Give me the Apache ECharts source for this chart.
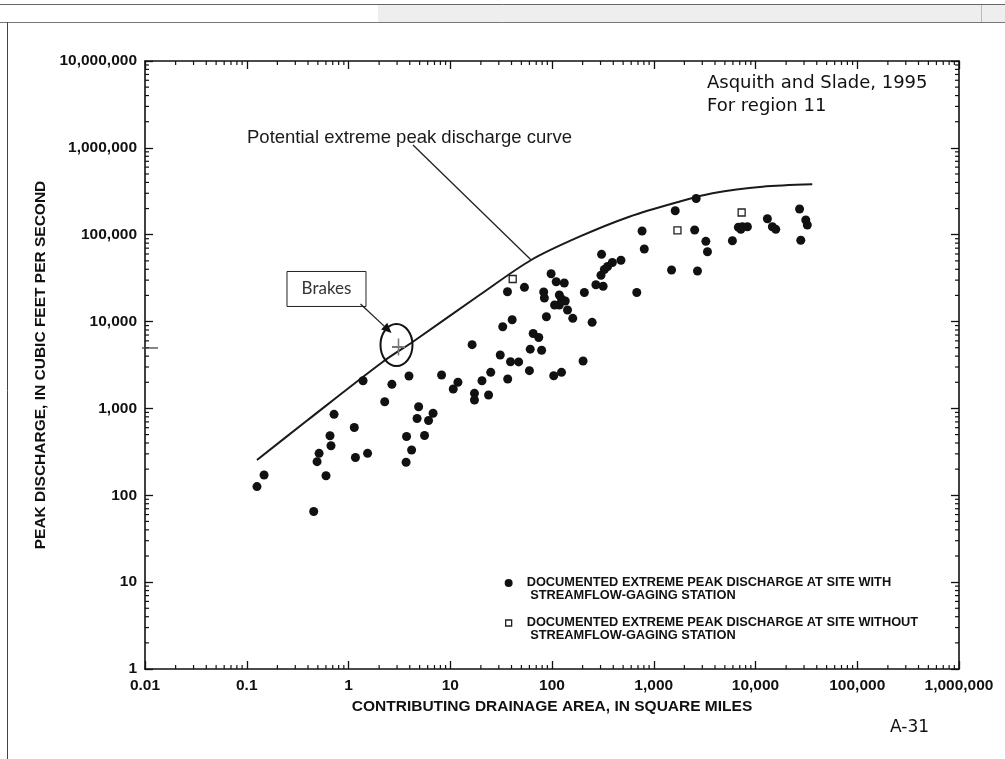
<!DOCTYPE html>
<html><head><meta charset="utf-8">
<style>html,body{margin:0;padding:0;background:#fff;}#c{width:1005px;height:759px;}</style>
<script src="https://cdn.jsdelivr.net/npm/echarts@6/dist/echarts.min.js"></script>
</head><body><div id="c"></div>
<script>
// ---------- data ----------
const xTickLabels = ['0.01','0.1','1','10','100','1,000','10,000','100,000','1,000,000'];
const yTickLabels = ['1','10','100','1,000','10,000','100,000','1,000,000','10,000,000'];
const minorMultipliers = [2,3,4,5,6,7,8,9];

const gagedArea = [0.126,0.148,0.455,0.514,0.491,0.658,0.673,0.601,1.14,1.17,1.54,3.72,4.17,3.68,5.59,0.721,1.39,2.27,2.67,3.93,
  4.89,4.72,6.12,6.78,8.22,10.7,11.9,16.4,17.3,17.3,23.8,20.5,25.0,31.0,36.7,39.1,47.0,32.8,40.6,60.0,
  61.1,79.1,65.3,74.1,104,124,88.1,36.5,53.6,82.9,84.2,110,132,118,124,106,118,135,142,160,
  248,202,98,208,270,318,303,327,352,392,476,307,681,768,807,1496,2690,1626,2612,2524,
  3252,3373,5930,6790,7430,8330,7180,13090,14650,15820,27100,31190,32300,27860];
const gagedPeak = [126,171,65,304,244,485,372,168,603,272,304,475,332,240,488,855,2080,1195,1895,2360,
  1047,766,726,879,2425,1674,2000,5420,1493,1250,1428,2085,2605,4120,2180,3450,3433,8730,10500,2720,
  4810,4670,7290,6560,2380,2605,11380,22060,24800,21900,18670,28770,27800,20200,18200,15500,15500,17250,13600,10900,
  9800,3515,35560,21600,26570,25470,34100,39740,43050,47860,50740,59460,21600,110300,68450,39250,38200,188900,261200,113300,
  83940,63710,85280,121700,123600,123600,115400,152800,123600,115400,197700,147600,129400,86450];
const ungagedArea = [41.1, 1710, 7310];
const ungagedPeak = [30900, 112400, 180200];
const curveArea = [0.126, 0.386, 2.18, 4.30, 19.4, 62.4, 186, 575, 1778, 3776, 11690, 36140];
const curvePeak = [255, 716, 3450, 5865, 20200, 51150, 94850, 161100, 239900, 299800, 357000, 380500];
const brakesArea = [3.1];
const brakesPeak = [5100];

const gagedName = 'DOCUMENTED EXTREME PEAK DISCHARGE AT SITE WITH\n STREAMFLOW-GAGING STATION';
const ungagedName = 'DOCUMENTED EXTREME PEAK DISCHARGE AT SITE WITHOUT\n STREAMFLOW-GAGING STATION';

// ---------- helpers ----------
function hasFont(name) {
  const c = document.createElement('canvas').getContext('2d');
  const s = 'DOCUMENTED EXTREME abcdefg 123';
  c.font = '16px monospace'; const w1 = c.measureText(s).width;
  c.font = '16px "' + name + '", monospace'; const w2 = c.measureText(s).width;
  return Math.abs(w1 - w2) > 0.5;
}
const narrow = hasFont('Liberation Sans Narrow');
const legendFont = narrow ? '"Liberation Sans Narrow"' : '"Liberation Sans"';
const legendSize = narrow ? 15.5 : 12.8;

const AX = '"Liberation Sans", Arial, sans-serif';
const ink = '#111';

const xMinor = [], yMinor = [];
for (let e = -2; e < 6; e++) minorMultipliers.forEach(m => xMinor.push(m * Math.pow(10, e)));
for (let e = 0; e < 7; e++) minorMultipliers.forEach(m => yMinor.push(m * Math.pow(10, e)));

const logLabel = (arr, base) => v => arr[Math.round(Math.log10(v)) - base] || '';

const tickStyle = {show: true, inside: true, length: 8, lineStyle: {color: ink, width: 1.3}};
const lineStyleAx = {show: true, lineStyle: {color: ink, width: 1.6}};

const chart = echarts.init(document.getElementById('c'), null, {renderer: 'canvas'});
chart.setOption({
  animation: false,
  backgroundColor: '#fff',
  grid: {left: 145, right: 46, top: 61, bottom: 90},
  xAxis: [
    {type: 'log', logBase: 10, min: 0.01, max: 1000000, interval: 1, position: 'bottom',
     axisLine: lineStyleAx, axisTick: tickStyle, splitLine: {show: false},
     axisLabel: {formatter: logLabel(xTickLabels, -2), fontFamily: AX, fontSize: 15.5, fontWeight: 'bold', color: ink, margin: 9},
     name: 'CONTRIBUTING DRAINAGE AREA, IN SQUARE MILES', nameLocation: 'middle', nameGap: 29,
     nameTextStyle: {fontFamily: AX, fontSize: 15.5, fontWeight: 'bold', color: ink}},
    {type: 'log', logBase: 10, min: 0.01, max: 1000000, interval: 1, position: 'top',
     axisLine: lineStyleAx, axisTick: tickStyle, splitLine: {show: false}, axisLabel: {show: false}}
  ],
  yAxis: [
    {type: 'log', logBase: 10, min: 1, max: 10000000, interval: 1, position: 'left',
     axisLine: lineStyleAx, axisTick: tickStyle, splitLine: {show: false},
     axisLabel: {formatter: logLabel(yTickLabels, 0), fontFamily: AX, fontSize: 15.5, fontWeight: 'bold', color: ink, margin: 8},
     name: 'PEAK DISCHARGE, IN CUBIC FEET PER SECOND', nameLocation: 'middle', nameGap: 90,
     nameTextStyle: {fontFamily: AX, fontSize: 15.5, fontWeight: 'bold', color: ink}},
    {type: 'log', logBase: 10, min: 1, max: 10000000, interval: 1, position: 'right',
     axisLine: lineStyleAx, axisTick: tickStyle, splitLine: {show: false}, axisLabel: {show: false}}
  ],
  legend: {
    data: [
      {name: gagedName, icon: 'path://M0,20 M17,0 M0,4 A4,4 0 1 1 8,4 A4,4 0 1 1 0,4 Z'},
      {name: ungagedName, icon: 'path://M0,20 M17,0 M1,1 L7,1 L7,7 L1,7 Z',
       itemStyle: {color: '#fff', borderColor: '#222', borderWidth: 1.3}}
    ],
    orient: 'vertical', left: 499, top: 571, itemWidth: 17, itemHeight: 20, itemGap: 14,
    selectedMode: false,
    textStyle: {fontFamily: legendFont, fontSize: legendSize, fontWeight: 'bold', lineHeight: 13, color: ink}
  },
  series: [
    {type: 'custom', name: 'xminor', silent: true, clip: false, z: 5, xAxisIndex: 0, yAxisIndex: 0,
     data: xMinor.map(v => [v, 1]),
     renderItem: (p, api) => {
       const v = api.value(0); const b = api.coord([v, 1]); const t = api.coord([v, 10000000]);
       return {type: 'group', children: [
         {type: 'line', shape: {x1: b[0], y1: b[1], x2: b[0], y2: b[1] - 4}, style: {stroke: ink, lineWidth: 1.2}},
         {type: 'line', shape: {x1: t[0], y1: t[1], x2: t[0], y2: t[1] + 4}, style: {stroke: ink, lineWidth: 1.2}}]};
     }},
    {type: 'custom', name: 'yminor', silent: true, clip: false, z: 5, xAxisIndex: 0, yAxisIndex: 0,
     data: yMinor.map(v => [0.01, v]),
     renderItem: (p, api) => {
       const v = api.value(1); const l = api.coord([0.01, v]); const r = api.coord([1000000, v]);
       return {type: 'group', children: [
         {type: 'line', shape: {x1: l[0], y1: l[1], x2: l[0] + 4, y2: l[1]}, style: {stroke: ink, lineWidth: 1.2}},
         {type: 'line', shape: {x1: r[0], y1: r[1], x2: r[0] - 4, y2: r[1]}, style: {stroke: ink, lineWidth: 1.2}}]};
     }},
    {type: 'line', name: 'curve', smooth: 0.3, showSymbol: false, symbol: 'none', silent: true,
     data: curveArea.map((a, i) => [a, curvePeak[i]]),
     lineStyle: {color: '#1a1a1a', width: 2}, z: 3},
    {type: 'scatter', name: gagedName, symbol: 'circle', symbolSize: 9,
     data: gagedArea.map((a, i) => [a, gagedPeak[i]]),
     itemStyle: {color: '#111', opacity: 1}, z: 4},
    {type: 'scatter', name: ungagedName, symbol: 'rect', symbolSize: 7,
     data: ungagedArea.map((a, i) => [a, ungagedPeak[i]]),
     itemStyle: {color: '#fff', borderColor: '#222', borderWidth: 1.3, opacity: 1}, z: 4},
    {type: 'scatter', name: 'Brakes', symbol: 'path://M4.4,0 L5.6,0 L5.6,4.4 L10,4.4 L10,5.6 L5.6,5.6 L5.6,10 L4.4,10 L4.4,5.6 L0,5.6 L0,4.4 L4.4,4.4 Z',
     symbolSize: [13, 17], data: brakesArea.map((a, i) => [a, brakesPeak[i]]),
     itemStyle: {color: '#777', opacity: 1}, z: 6}
  ]
});

// ---------- annotations anchored through the axes ----------
const P = chart.convertToPixel({xAxisIndex: 0, yAxisIndex: 0}, [brakesArea[0], brakesPeak[0]]);
const leadEnd = chart.convertToPixel({xAxisIndex: 0, yAxisIndex: 0}, [curveArea[5], curvePeak[5]]);
const axisX = chart.convertToPixel({xAxisIndex: 0}, 0.01);
const arrS = [P[0] - 38, P[1] - 43], arrE = [P[0] - 7, P[1] - 14];
const dx = arrE[0] - arrS[0], dy = arrE[1] - arrS[1], L = Math.hypot(dx, dy);
const ux = dx / L, uy = dy / L, hl = 10, hw = 4.5;
const head = [arrE, [arrE[0] - ux * hl - uy * hw, arrE[1] - uy * hl + ux * hw], [arrE[0] - ux * hl + uy * hw, arrE[1] - uy * hl - ux * hw]];

chart.setOption({graphic: [
  // page frame
  {type: 'rect', shape: {x: 378, y: 5, width: 627, height: 17}, style: {fill: '#eeeeee'}, silent: true, z: 0},
  {type: 'line', shape: {x1: 0, y1: 4.5, x2: 1005, y2: 4.5}, style: {stroke: '#666', lineWidth: 1}, silent: true},
  {type: 'line', shape: {x1: 0, y1: 22.5, x2: 1005, y2: 22.5}, style: {stroke: '#777', lineWidth: 1}, silent: true},
  {type: 'line', shape: {x1: 981.5, y1: 5, x2: 981.5, y2: 22}, style: {stroke: '#bbb', lineWidth: 1}, silent: true},
  {type: 'line', shape: {x1: 7.5, y1: 22, x2: 7.5, y2: 759}, style: {stroke: '#444', lineWidth: 1}, silent: true},
  // texts
  {type: 'text', left: 247, top: 128, style: {text: 'Potential extreme peak discharge curve', font: '18.5px "Liberation Sans", Arial, sans-serif', fill: '#1a1a1a'}, silent: true},
  {type: 'line', shape: {x1: 413, y1: 145, x2: leadEnd[0], y2: leadEnd[1]}, style: {stroke: '#222', lineWidth: 1.3}, silent: true},
  {type: 'text', left: 707, top: 74, style: {text: 'Asquith and Slade, 1995', font: '18px "DejaVu Sans", sans-serif', fill: '#111'}, silent: true},
  {type: 'text', left: 707, top: 97, style: {text: 'For region 11', font: '18px "DejaVu Sans", sans-serif', fill: '#111'}, silent: true},
  {type: 'text', left: 890, top: 719, style: {text: 'A-31', font: '17px "DejaVu Sans", sans-serif', fill: '#111'}, silent: true},
  // Brakes annotation
  {type: 'rect', shape: {x: P[0] - 111.5, y: P[1] - 75.5, width: 79, height: 35}, style: {fill: '#fff', stroke: '#222', lineWidth: 1}, silent: true, z: 10},
  {type: 'text', x: P[0] - 72, y: P[1] - 58, style: {text: 'Brakes', font: '17px Lato, "Open Sans", sans-serif', fill: '#333', align: 'center', verticalAlign: 'middle'}, silent: true, z: 11},
  {type: 'line', shape: {x1: arrS[0], y1: arrS[1], x2: arrE[0] - ux * 6, y2: arrE[1] - uy * 6}, style: {stroke: '#222', lineWidth: 1.3}, silent: true, z: 10},
  {type: 'polygon', shape: {points: head}, style: {fill: '#111'}, silent: true, z: 10},
  {type: 'ellipse', shape: {cx: P[0] - 2, cy: P[1] - 2, rx: 16, ry: 21}, style: {fill: 'none', stroke: '#111', lineWidth: 2}, silent: true, z: 10},
  {type: 'line', shape: {x1: axisX - 3, y1: P[1] + 1, x2: axisX + 13, y2: P[1] + 1}, style: {stroke: '#444', lineWidth: 1.3}, silent: true, z: 10}
]});
</script>
</body></html>
